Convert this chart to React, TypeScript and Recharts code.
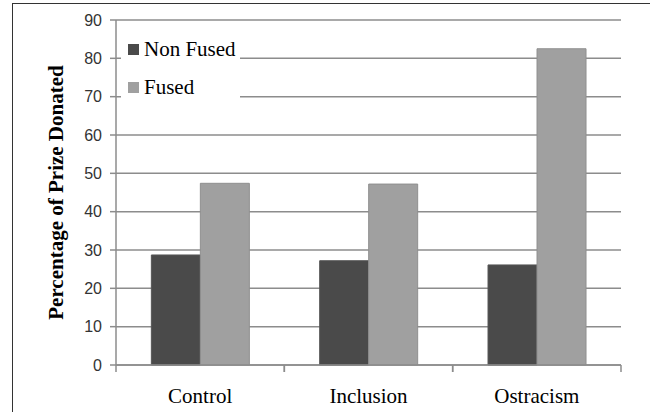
import React from 'react';
import { BarChart, Bar, XAxis, YAxis, CartesianGrid, Legend, Label } from 'recharts';

const categories = ['Control', 'Inclusion', 'Ostracism'];
const nonFused = [28.7, 27.2, 26.1];
const fused = [47.4, 47.2, 82.5];
const yTicks = [0, 10, 20, 30, 40, 50, 60, 70, 80, 90];

const data = categories.map((name, i) => ({ name, nonFused: nonFused[i], fused: fused[i] }));

const GRID = '#8c8c8c';
const DARK = '#4a4a4a';
const LIGHT = '#a0a0a0';
const SERIF = "'Liberation Serif', 'Times New Roman', Times, serif";

// category label plus the small tick marks at the band edges
const CategoryTick = (props: any) => {
  const { x, y, payload, width, visibleTicksCount } = props;
  const bw = width / (visibleTicksCount || categories.length);
  return (
    <g>
      <line x1={x - bw / 2} x2={x - bw / 2} y1={y} y2={y + 7} stroke={GRID} strokeWidth={1.5} />
      <line x1={x + bw / 2} x2={x + bw / 2} y1={y} y2={y + 7} stroke={GRID} strokeWidth={1.5} />
      <text x={x} y={y + 38} textAnchor="middle" style={{ fontFamily: SERIF, fontSize: 21 }} fill="#000">
        {payload.value}
      </text>
    </g>
  );
};

const LegendBox = () => (
  <div style={{ background: '#fff', fontFamily: SERIF, fontSize: 21, color: '#000' }}>
    {[
      { label: 'Non Fused', color: DARK },
      { label: 'Fused', color: LIGHT },
    ].map((it) => (
      <div key={it.label} style={{ display: 'flex', alignItems: 'center', height: 38, paddingLeft: 7 }}>
        <span style={{ width: 11, height: 11, background: it.color, marginRight: 5, display: 'inline-block' }} />
        <span>{it.label}</span>
      </div>
    ))}
  </div>
);

export default function App() {
  return (
    <div style={{ position: 'fixed', left: 0, top: 0, width: 650, height: 412, background: '#fff', overflow: 'hidden' }}>
      <div
        style={{
          position: 'absolute',
          left: 12,
          top: 3,
          width: 700,
          height: 500,
          borderLeft: '1.5px solid #333',
          borderTop: '1.5px solid #333',
        }}
      />
      <BarChart
        width={650}
        height={412}
        data={data}
        margin={{ top: 20, right: 29, bottom: 7, left: 56 }}
        barCategoryGap="21%"
        barGap={0}
      >
        <CartesianGrid vertical={false} stroke={GRID} strokeWidth={1.5} />
        <XAxis
          dataKey="name"
          height={40}
          interval={0}
          tickLine={false}
          tickSize={0}
          tickMargin={0}
          axisLine={{ stroke: GRID, strokeWidth: 1.5 }}
          tick={<CategoryTick />}
        />
        <YAxis
          width={60}
          domain={[0, 90]}
          ticks={yTicks}
          interval={0}
          tickSize={6}
          tickMargin={8}
          axisLine={{ stroke: GRID, strokeWidth: 1.5 }}
          tickLine={{ stroke: GRID, strokeWidth: 1.5 }}
          tick={{ fontFamily: "'Liberation Sans', Arial, sans-serif", fontSize: 16, fill: '#333' }}
        >
          <Label
            content={(p: any) => {
              const vb = p.viewBox || { y: 20, height: 345 };
              const cy = vb.y + vb.height / 2;
              return (
                <text
                  x={56}
                  y={cy}
                  transform={`rotate(-90 56 ${cy})`}
                  textAnchor="middle"
                  dominantBaseline="central"
                  style={{ fontFamily: SERIF, fontWeight: 'bold', fontSize: 21 }}
                  fill="#000"
                >
                  Percentage of Prize Donated
                </text>
              );
            }}
          />
        </YAxis>
        <Legend
          layout="vertical"
          align="center"
          verticalAlign="middle"
          content={<LegendBox />}
          wrapperStyle={{ position: 'absolute', top: 30, left: 121, width: 119 }}
        />
        <Bar dataKey="nonFused" name="Non Fused" fill={DARK} stroke="#555" strokeWidth={1} isAnimationActive={false} />
        <Bar dataKey="fused" name="Fused" fill={LIGHT} stroke="#8f8f8f" strokeWidth={1} isAnimationActive={false} />
      </BarChart>
    </div>
  );
}
